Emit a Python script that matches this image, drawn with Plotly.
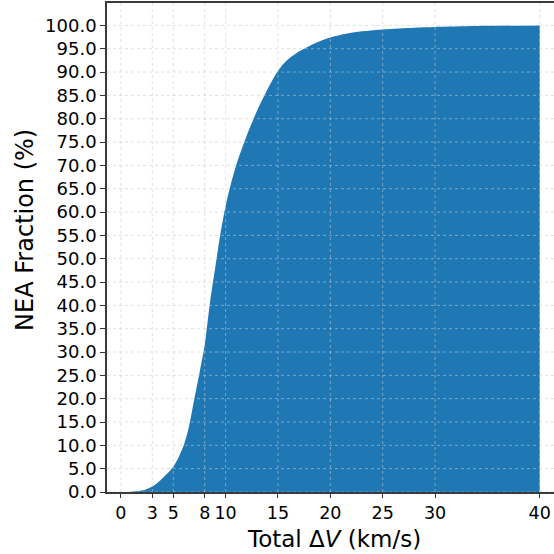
import plotly.graph_objects as go

# CDF data
dv_kms = [0.0, 1.0, 2.0, 3.0, 3.5, 4.0, 4.5, 5.0, 5.5, 6.0, 6.5, 7.0, 7.5, 8.0, 8.5,
          9.0, 9.5, 10.0, 10.5, 11.0, 12.0, 13.0, 14.0, 14.5, 15.0, 15.5, 16.0, 17.0,
          18.0, 19.0, 20.0, 22.0, 25.0, 28.0, 30.0, 35.0, 40.0]
nea_frac = [0.0, 0.05, 0.3, 1.2, 2.0, 3.0, 4.1, 5.4, 7.4, 10.0, 14.0, 19.8, 25.5, 31.5, 40.5,
            48.0, 55.3, 61.3, 66.0, 70.0, 76.3, 81.7, 86.3, 88.4, 90.2, 91.7, 92.8, 94.4,
            95.6, 96.6, 97.4, 98.4, 99.1, 99.5, 99.65, 99.9, 100.0]

x_ticks = [0, 3, 5, 8, 10, 15, 20, 25, 30, 40]
y_ticks = [v * 5 for v in range(21)]
y_ticktext = [f"{v:.1f}" for v in y_ticks]

fig = go.Figure()
fig.add_trace(go.Scatter(
    x=dv_kms, y=nea_frac, mode="lines", fill="tozeroy",
    line=dict(width=0, color="#1f77b4", shape="spline", smoothing=0.8),
    fillcolor="#1f77b4", hoverinfo="skip", showlegend=False,
))

grid_style = dict(color="rgba(200,200,200,0.55)", width=1, dash="dot")
shapes = []
for xv in x_ticks:
    shapes.append(dict(type="line", xref="x", yref="paper", x0=xv, x1=xv, y0=0, y1=1,
                       line=grid_style, layer="above"))
for yv in y_ticks:
    shapes.append(dict(type="line", xref="paper", yref="y", x0=0, x1=1, y0=yv, y1=yv,
                       line=grid_style, layer="above"))

fig.update_layout(
    width=554, height=554, autosize=False,
    margin=dict(l=107, r=0, t=3, b=62),
    plot_bgcolor="white", paper_bgcolor="white",
    font=dict(family="DejaVu Sans", color="black", size=18),
    shapes=shapes,
    xaxis=dict(
        range=[-1.33, 41.36], tickvals=x_ticks, ticktext=[str(v) for v in x_ticks],
        showgrid=False, zeroline=False, showline=True, linecolor="#3a3a3a", linewidth=1.5,
        mirror=True, ticks="outside", ticklen=4, tickwidth=1.3, tickcolor="#333",
        tickfont=dict(size=17.5),
    ),
    yaxis=dict(
        range=[0, 104.8], tickvals=y_ticks, ticktext=y_ticktext,
        showgrid=False, zeroline=False, showline=True, linecolor="#3a3a3a", linewidth=1.5,
        ticks="outside", ticklen=5, tickwidth=1.3, tickcolor="#333",
        tickfont=dict(size=18),
    ),
    annotations=[
        dict(text="Total Δ<i>V</i> (km/s)", xref="paper", yref="paper", x=0.508, y=0,
             xanchor="center", yanchor="middle", yshift=-47, showarrow=False,
             font=dict(size=23)),
        dict(text="NEA Fraction (%)", xref="paper", yref="paper", x=0, y=0.536,
             xanchor="center", yanchor="middle", xshift=-82, textangle=-90,
             showarrow=False, font=dict(size=24)),
    ],
)

fig.write_html("out.html")
